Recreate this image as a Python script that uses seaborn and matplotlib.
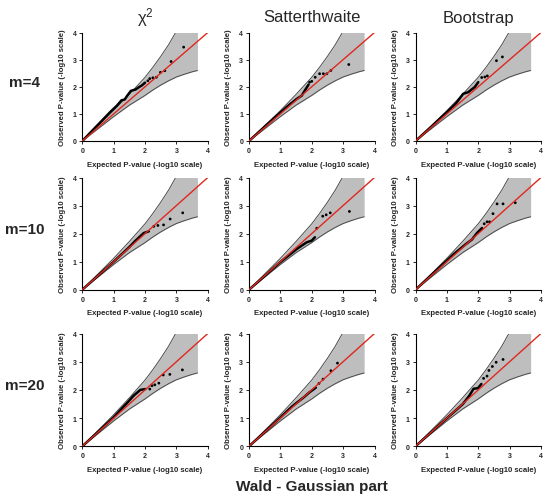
import matplotlib
matplotlib.use("Agg")
import matplotlib.pyplot as plt
import seaborn as sns
import numpy as np

sns.set_style("ticks")
plt.rcParams['font.family'] = ['Liberation Sans', 'DejaVu Sans']
plt.rcParams['mathtext.fontset'] = 'custom'
plt.rcParams['mathtext.rm'] = 'Liberation Sans'
plt.rcParams['mathtext.it'] = 'Liberation Sans'

# 95% band around the diagonal (same in every panel)
band_x = [0, 0.5, 1.0, 1.5, 2.0, 2.25, 2.5, 2.75, 3.0, 3.25, 3.5, 3.67]
band_upper = [0, 0.56, 1.12, 1.72, 2.35, 2.72, 3.12, 3.55, 4.05, 4.6, 5.2, 5.6]
band_lower = [0, 0.45, 0.9, 1.32, 1.68, 1.88, 2.06, 2.22, 2.36, 2.46, 2.55, 2.6]

methods = ["χ$^2$", "Satterthwaite", "Bootstrap"]
m_labels = ["m=4", "m=10", "m=20"]

# observed vs expected -log10 p-values; dense part drawn as a line, tail as dots
chi2_m4_x = [0, 0.3, 0.6, 0.9, 1.1, 1.25, 1.35, 1.45, 1.55, 1.7, 1.8, 1.9, 2.0]
chi2_m4_y = [0, 0.36, 0.72, 1.08, 1.3, 1.5, 1.53, 1.7, 1.85, 1.9, 1.98, 2.05, 2.15]
chi2_m4_tx = [2.09, 2.15, 2.25, 2.36, 2.49, 2.63, 2.83, 3.23]
chi2_m4_ty = [2.22, 2.3, 2.33, 2.35, 2.53, 2.59, 2.93, 3.46]

satt_m4_x = [0, 0.5, 1.0, 1.3, 1.52, 1.68, 1.8, 1.9]
satt_m4_y = [0, 0.53, 1.05, 1.35, 1.55, 1.67, 1.9, 2.08]
satt_m4_tx = [1.93, 2.0, 2.11, 2.25, 2.37, 2.48, 2.61, 3.18]
satt_m4_ty = [2.17, 2.2, 2.35, 2.48, 2.48, 2.48, 2.6, 2.82]

boot_m4_x = [0, 0.5, 1.0, 1.3, 1.52, 1.68, 1.89, 2.0]
boot_m4_y = [0, 0.52, 1.06, 1.4, 1.74, 1.8, 1.99, 2.17]
boot_m4_tx = [2.11, 2.21, 2.29, 2.58, 2.77]
boot_m4_ty = [2.34, 2.36, 2.4, 2.96, 3.1]

chi2_m10_x = [0, 0.5, 1.0, 1.5, 1.68, 1.96, 2.12]
chi2_m10_y = [0, 0.5, 1.0, 1.52, 1.73, 2.02, 2.08]
chi2_m10_tx = [2.28, 2.41, 2.59, 2.8, 3.2]
chi2_m10_ty = [2.26, 2.29, 2.31, 2.52, 2.74]

satt_m10_x = [0, 0.5, 0.99, 1.52, 1.84, 2.0, 2.1]
satt_m10_y = [0, 0.49, 0.98, 1.45, 1.69, 1.75, 1.87]
satt_m10_tx = [2.16, 2.35, 2.46, 2.59, 3.2]
satt_m10_ty = [2.19, 2.62, 2.67, 2.74, 2.79]

boot_m10_x = [0, 0.6, 1.21, 1.59, 1.8, 1.96, 2.12]
boot_m10_y = [0, 0.62, 1.26, 1.61, 1.79, 2.02, 2.2]
boot_m10_tx = [2.19, 2.28, 2.36, 2.47, 2.6, 2.79, 3.18]
boot_m10_ty = [2.35, 2.42, 2.42, 2.71, 3.06, 3.06, 3.1]

chi2_m20_x = [0, 0.5, 1.0, 1.48, 1.64, 1.85, 2.01]
chi2_m20_y = [0, 0.51, 1.03, 1.6, 1.8, 2.0, 2.03]
chi2_m20_tx = [2.15, 2.22, 2.31, 2.44, 2.58, 2.79, 3.19]
chi2_m20_ty = [2.03, 2.15, 2.18, 2.24, 2.53, 2.55, 2.71]

satt_m20_x = [0, 0.7, 1.38, 1.76, 1.91, 2.13]
satt_m20_y = [0, 0.71, 1.42, 1.75, 1.9, 2.08]
satt_m20_tx = [2.23, 2.36, 2.61, 2.82]
satt_m20_ty = [2.23, 2.38, 2.68, 2.95]

boot_m20_x = [0, 0.75, 1.51, 1.72, 1.85, 1.99, 2.1]
boot_m20_y = [0, 0.75, 1.5, 1.8, 2.04, 2.06, 2.21]
boot_m20_tx = [2.17, 2.28, 2.34, 2.45, 2.57, 2.79]
boot_m20_ty = [2.41, 2.49, 2.69, 2.83, 2.98, 3.08]

panels = [
    [(chi2_m4_x, chi2_m4_y, chi2_m4_tx, chi2_m4_ty),
     (satt_m4_x, satt_m4_y, satt_m4_tx, satt_m4_ty),
     (boot_m4_x, boot_m4_y, boot_m4_tx, boot_m4_ty)],
    [(chi2_m10_x, chi2_m10_y, chi2_m10_tx, chi2_m10_ty),
     (satt_m10_x, satt_m10_y, satt_m10_tx, satt_m10_ty),
     (boot_m10_x, boot_m10_y, boot_m10_tx, boot_m10_ty)],
    [(chi2_m20_x, chi2_m20_y, chi2_m20_tx, chi2_m20_ty),
     (satt_m20_x, satt_m20_y, satt_m20_tx, satt_m20_ty),
     (boot_m20_x, boot_m20_y, boot_m20_tx, boot_m20_ty)],
]

W, H = 550, 502
fig = plt.figure(figsize=(W / 100, H / 100), dpi=100)

# panel boxes in pixels (left, top, width, bottom)
col_left = [82.3, 249, 415.5]
col_w = 125.5
row_tb = [(33.5, 142), (178.5, 290.7), (334.5, 447.3)]


def draw_panel(ax, dx, dy, tx, ty):
    ax.fill_between(band_x, band_lower, band_upper, color="#bebebe", lw=0, zorder=1)
    ax.plot(band_x, band_upper, color="#4a4a4a", lw=0.7, zorder=2)
    ax.plot(band_x, band_lower, color="#4a4a4a", lw=0.7, zorder=2)
    sns.lineplot(x=dx, y=dy, ax=ax, color="black", lw=1.8, sort=False,
                 estimator=None, zorder=3)
    sns.scatterplot(x=tx, y=ty, ax=ax, color="black", s=4, edgecolor="none", zorder=3)
    ax.plot([0, 4], [0, 4], color="#e0281e", lw=1.0, zorder=4)
    ax.set_xlim(0, 4)
    ax.set_ylim(0, 4)
    ax.set_xticks([0, 1, 2, 3, 4])
    ax.set_yticks([0, 1, 2, 3, 4])
    ax.tick_params(labelsize=5, length=2.2, width=0.7, pad=2)
    for lab in ax.get_xticklabels() + ax.get_yticklabels():
        lab.set_fontweight("bold")
    ax.set_xlabel("Expected P-value (-log10 scale)", fontsize=5.6, fontweight="bold", labelpad=5)
    ax.set_ylabel("Observed P-value (-log10 scale)", fontsize=5.6, fontweight="bold", labelpad=5)
    sns.despine(ax=ax)
    for sp in ("left", "bottom"):
        ax.spines[sp].set_linewidth(0.8)
        ax.spines[sp].set_color("black")


for r, (top, bot) in enumerate(row_tb):
    for c in range(3):
        ax = fig.add_axes([col_left[c] / W, 1 - bot / H, col_w / W, (bot - top) / H])
        ax.patch.set_alpha(0)
        draw_panel(ax, *panels[r][c])
    fig.text(25 / W, 1 - ((top + bot) / 2 - 5) / H, m_labels[r], fontsize=11,
             fontweight="bold", ha="center", va="center")

for c, name in enumerate(methods):
    fig.text((col_left[c] + col_w / 2) / W, 1 - 18 / H, name, fontsize=12,
             ha="center", va="center")

fig.text((col_left[1] + col_w / 2) / W, 1 - 487 / H, "Wald - Gaussian part",
         fontsize=11, fontweight="bold", ha="center", va="center")

fig.savefig("out.png", dpi=100)
